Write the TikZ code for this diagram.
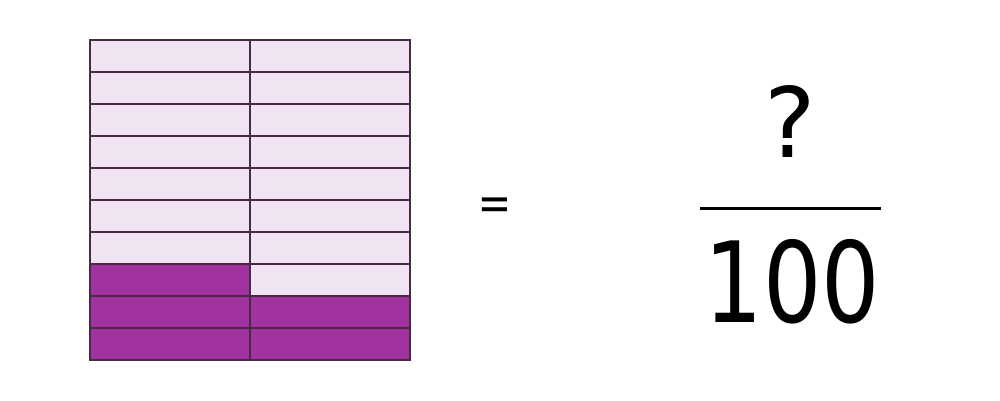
\documentclass[tikz,border=0pt]{standalone}
\usepackage{fontspec}
\usepackage{graphicx}
\setmainfont{DejaVu Sans}
\newfontfamily\eqfont{Carlito}
\definecolor{lightcell}{HTML}{F0E4F2}
\definecolor{darkcell}{HTML}{A033A0}
\definecolor{gridline}{HTML}{4A2848}
\tikzset{
  cell/.style={draw=gridline, line width=1.3pt},
  fractext/.style={inner sep=0pt, anchor=base},
}
\begin{document}
\begin{tikzpicture}[x=1pt,y=-1pt]
\useasboundingbox (0,0) rectangle (1000,400);
% grid of 10 rows x 2 columns
\foreach \r in {0,...,9}{
  \foreach \c in {0,1}{
    \pgfmathtruncatemacro{\dark}{(\r>8) || (\r==8) || (\r==7 && \c==0) ? 1 : 0}
    \ifnum\dark=1
      \filldraw[cell, fill=darkcell] (90+160*\c,40+32*\r) rectangle ++(160,32);
    \else
      \filldraw[cell, fill=lightcell] (90+160*\c,40+32*\r) rectangle ++(160,32);
    \fi
  }
}
\node[fractext, font=\eqfont\fontsize{62}{62}\selectfont] (eq) at (495,224) {=};
\node[fractext, font=\fontsize{97}{97}\selectfont] (num) at (790,157) {?};
\node[fractext, font=\fontsize{112}{112}\selectfont] (den) at (792.5,322) {\scalebox{0.82}[1]{100}};
\coordinate (barL) at (700,208);
\coordinate (barR) at (881,208);
\draw[line width=3pt] (barL) -- (barR);
\end{tikzpicture}
\end{document}
